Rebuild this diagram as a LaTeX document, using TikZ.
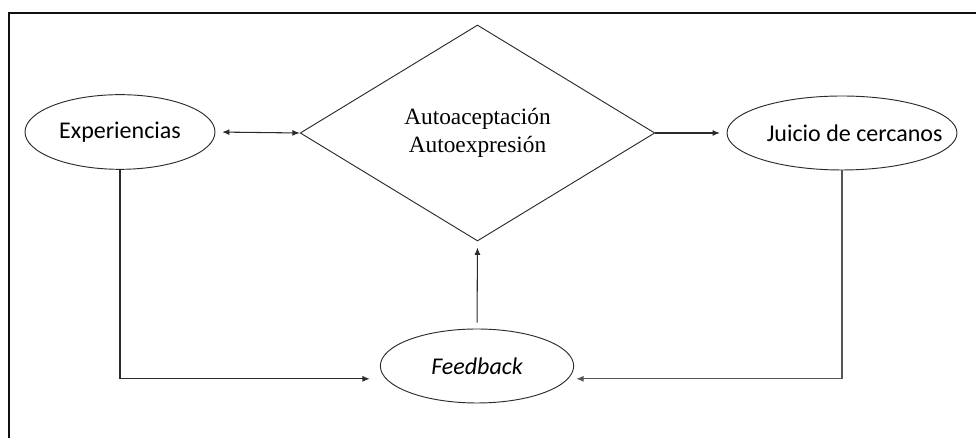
\documentclass[tikz,border=0pt]{standalone}
\usepackage{fontspec}
\setmainfont{Liberation Serif}
\setsansfont{Carlito}
\usetikzlibrary{shapes.geometric, arrows.meta, positioning, calc}
\definecolor{framedark}{HTML}{111111}
\definecolor{linedark}{HTML}{2B2B2B}
\definecolor{linegray}{HTML}{555555}

\begin{document}
\begin{tikzpicture}[
    x=0.75pt, y=0.75pt,
    every node/.style={font=\sffamily\fontsize{18}{21}\selectfont},
    bubble/.style={draw=linedark, ellipse, line width=0.7pt, inner sep=0pt},
    link/.style={draw=linedark, line width=0.8pt, -{Latex[length=5.5pt, width=4.5pt]}},
]

% Page area and frame
\useasboundingbox (0,0) rectangle (976,438);
\draw[framedark, line width=1.6pt] (9,0) |- (976,425);

% === Central diamond ===
\node[draw=linedark, diamond, line width=0.7pt, inner sep=0pt, minimum width=266pt, minimum height=162pt,
      align=center, font=\rmfamily\fontsize{17.5}{21.5}\selectfont]
      (self) at (477.5,305) {Autoaceptación\\Autoexpresión};

% === Surrounding ellipses ===
\node[bubble, minimum width=142.5pt, minimum height=56pt] (exp) at (120,306) {Experiencias};

\node[bubble, minimum width=172.5pt, minimum height=55.5pt,
      label={[xshift=9.5pt, font=\sffamily\fontsize{18}{21}\selectfont]center:Juicio de cercanos}]
      (juicio) at (842,305) {};

\node[bubble, minimum width=145pt, minimum height=55.5pt, font=\sffamily\itshape\fontsize{18}{21}\selectfont]
      (feed) at (477,72) {Feedback};

% === Connectors ===
\draw[link, {Latex[length=5.5pt, width=4.5pt]}-{Latex[length=5.5pt, width=4.5pt]}, shorten <=5pt]
      (exp.east) -- (self.west);
\draw[link, shorten >=5pt] (self.east) -- (juicio.west);
\draw[link, shorten <=4.5pt, shorten >=4.5pt] (feed.north) -- (self.south);
\draw[link] (exp.south) |- ([xshift=-12pt]feed.188);
\draw[link, draw=linegray] (juicio.south) |- ([xshift=6pt]feed.352);

\end{tikzpicture}
\end{document}
